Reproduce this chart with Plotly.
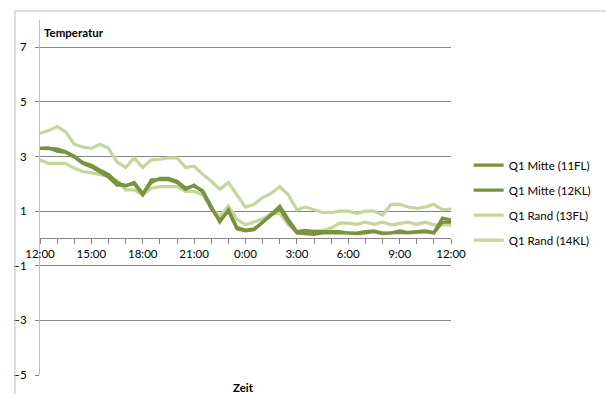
import pandas as pd
import plotly.graph_objects as go

# Half-hourly readings from 12:00 to 12:00 the next day
times = pd.date_range("2012-06-01 12:00", "2012-06-02 12:00", freq="30min")

mitte_11fl = [3.30, 3.30, 3.28, 3.18, 3.02, 2.78, 2.68, 2.50, 2.35, 2.05,
              1.92, 2.05, 1.65, 2.05, 2.20, 2.20, 2.10, 1.85, 1.92, 1.75,
              1.20, 0.60, 1.05, 0.40, 0.31, 0.35, 0.58, 0.90, 1.18, 0.70,
              0.25, 0.30, 0.25, 0.25, 0.25, 0.25, 0.20, 0.20, 0.25, 0.28,
              0.20, 0.20, 0.28, 0.22, 0.25, 0.28, 0.22, 0.75, 0.68]
mitte_12kl = [3.30, 3.32, 3.20, 3.15, 2.98, 2.75, 2.62, 2.42, 2.25, 1.95,
              1.95, 2.00, 1.60, 2.15, 2.15, 2.15, 2.05, 1.80, 1.95, 1.70,
              1.10, 0.65, 1.00, 0.35, 0.28, 0.32, 0.60, 0.85, 1.10, 0.60,
              0.20, 0.18, 0.15, 0.20, 0.20, 0.22, 0.20, 0.18, 0.20, 0.25,
              0.18, 0.20, 0.22, 0.20, 0.22, 0.25, 0.20, 0.60, 0.60]
rand_13fl = [3.85, 3.95, 4.10, 3.90, 3.45, 3.35, 3.30, 3.45, 3.30, 2.80,
             2.60, 2.95, 2.60, 2.88, 2.90, 2.95, 2.95, 2.60, 2.65, 2.35,
             2.10, 1.80, 2.05, 1.60, 1.15, 1.25, 1.50, 1.65, 1.90, 1.60,
             1.05, 1.15, 1.05, 0.95, 0.95, 1.00, 1.00, 0.92, 1.00, 1.00,
             0.85, 1.25, 1.25, 1.15, 1.10, 1.15, 1.25, 1.05, 1.08]
rand_14kl = [2.87, 2.75, 2.75, 2.75, 2.57, 2.45, 2.40, 2.33, 2.28, 2.10,
             1.78, 1.78, 1.60, 1.84, 1.90, 1.90, 1.90, 1.72, 1.72, 1.60,
             1.10, 0.80, 1.19, 0.70, 0.50, 0.60, 0.72, 0.90, 0.92, 0.50,
             0.25, 0.20, 0.28, 0.30, 0.38, 0.56, 0.56, 0.52, 0.60, 0.52,
             0.60, 0.50, 0.55, 0.60, 0.52, 0.60, 0.50, 0.50, 0.50]

series = [
    ("Q1 Mitte (11FL)", mitte_11fl, "#77933C"),
    ("Q1 Mitte (12KL)", mitte_12kl, "#77933C"),
    ("Q1 Rand (13FL)", rand_13fl, "#C3D69B"),
    ("Q1 Rand (14KL)", rand_14kl, "#C3D69B"),
]

FONT = "Lato, 'Open Sans', sans-serif"

fig = go.Figure()
# light lines first so the dark ones sit on top; legend keeps series order
for rank, (name, vals, col) in sorted(enumerate(series), key=lambda t: -t[0]):
    fig.add_trace(go.Scatter(
        x=times, y=vals, mode="lines", name=name,
        line=dict(color=col, width=3.2), legendgroup=f"g{rank}",
        legendrank=rank,
    ))

fig.update_layout(
    width=606, height=394,
    margin=dict(l=40, r=155, t=20, b=19, autoexpand=False),
    paper_bgcolor="white", plot_bgcolor="white",
    font=dict(family=FONT, size=11, color="black"),
    showlegend=True,
    legend=dict(x=1.043, y=0.632, xanchor="left", yanchor="top",
                traceorder="grouped", tracegroupgap=6,
                itemwidth=30, font=dict(size=11.5)),
    xaxis=dict(
        range=[times[0], times[-1]],
        anchor="free", position=5 / 13,
        showline=True, linecolor="#868686", linewidth=1,
        showgrid=False, zeroline=False,
        tickformat="%-H:%M", dtick=3 * 3600 * 1000,
        tick0=times[0],
        ticks="outside", ticklen=5, tickcolor="#868686",
        minor=dict(dtick=3600 * 1000, ticks="outside", ticklen=5,
                   tickcolor="#868686", showgrid=False),
        tickfont=dict(size=11.5),
    ),
    yaxis=dict(
        range=[-5, 8], tick0=1, dtick=2,
        showline=True, linecolor="#bfbfbf", linewidth=1,
        showgrid=True, gridcolor="#868686", gridwidth=1,
        zeroline=False,
        ticks="outside", ticklen=4, tickcolor="#868686",
        ticklabelstandoff=6,
        tickfont=dict(size=11.5),
    ),
)

fig.add_annotation(text="<b>Temperatur</b>", xref="paper", yref="y",
                   x=0, y=7.55, xanchor="left", yanchor="middle",
                   xshift=2, showarrow=False, font=dict(size=11.5))
fig.add_annotation(text="<b>Zeit</b>", xref="paper", yref="paper",
                   x=0.495, y=-12 / 355, xanchor="center", yanchor="middle",
                   showarrow=False, font=dict(size=11.5))

# chart-area frame on the left and top
fig.add_shape(type="line", xref="paper", yref="paper",
              x0=-25 / 411, x1=-25 / 411, y0=364 / 355, y1=-0.1,
              line=dict(color="#bfbfbf", width=1))
fig.add_shape(type="line", xref="paper", yref="paper",
              x0=-25 / 411, x1=1.4, y0=364 / 355, y1=364 / 355,
              line=dict(color="#bfbfbf", width=1))

fig.write_html("out.html")
